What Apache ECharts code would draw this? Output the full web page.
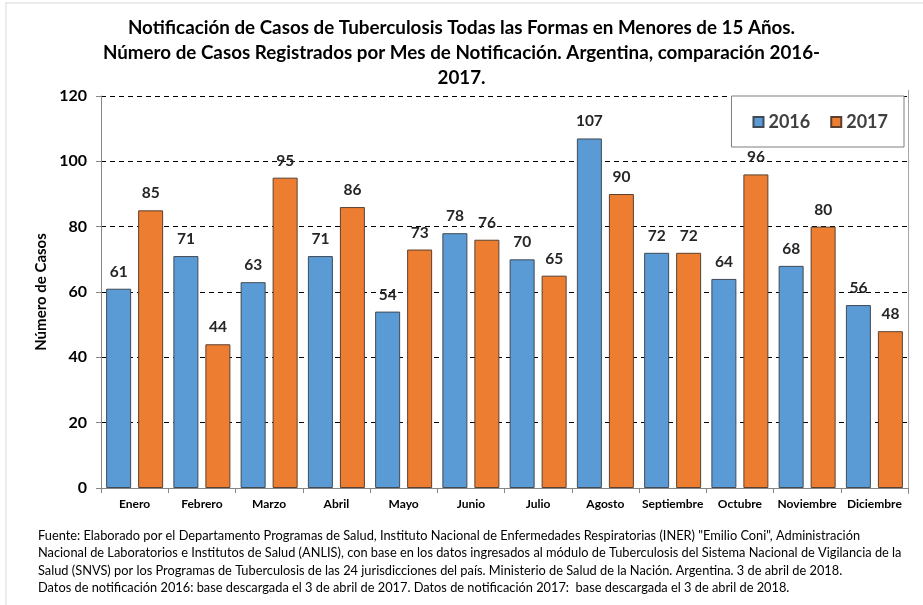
<!DOCTYPE html>
<html>
<head>
<meta charset="utf-8">
<script src="https://cdn.jsdelivr.net/npm/echarts@6/dist/echarts.min.js"></script>
<style>
  html, body { margin: 0; padding: 0; background: #fff; }
  #chart { width: 923px; height: 605px; }
</style>
</head>
<body>
<div id="chart"></div>
<script>
var months = ['Enero', 'Febrero', 'Marzo', 'Abril', 'Mayo', 'Junio', 'Julio', 'Agosto', 'Septiembre', 'Octubre', 'Noviembre', 'Diciembre'];
var casos2016 = [61, 71, 63, 71, 54, 78, 70, 107, 72, 64, 68, 56];
var casos2017 = [85, 44, 95, 86, 73, 76, 65, 90, 72, 96, 80, 48];
var yTicks = [0, 20, 40, 60, 80, 100, 120];

var titleText = 'Notificación de Casos de Tuberculosis Todas las Formas en Menores de 15 Años.\n' +
  'Número de Casos Registrados por Mes de Notificación. Argentina, comparación 2016-\n2017.';
var fuenteText = 'Fuente: Elaborado por el Departamento Programas de Salud, Instituto Nacional de Enfermedades Respiratorias (INER) "Emilio Coni", Administración\n' +
  'Nacional de Laboratorios e Institutos de Salud (ANLIS), con base en los datos ingresados al módulo de Tuberculosis del Sistema Nacional de Vigilancia de la\n' +
  'Salud (SNVS) por los Programas de Tuberculosis de las 24 jurisdicciones del país. Ministerio de Salud de la Nación. Argentina. 3 de abril de 2018.\n' +
  'Datos de notificación 2016: base descargada el 3 de abril de 2017. Datos de notificación 2017:  base descargada el 3 de abril de 2018.';

var font = 'Lato, "Open Sans", sans-serif';

var chart = echarts.init(document.getElementById('chart'));

var labelStyle = {
  show: true,
  position: 'top',
  distance: 9,
  fontFamily: font,
  fontWeight: 'bold',
  fontSize: 15.5,
  color: '#262626'
};

var option = {
  animation: false,
  backgroundColor: '#fff',
  title: {
    text: titleText,
    left: 'center',
    top: 10,
    textStyle: {
      fontFamily: font,
      fontWeight: 'bold',
      fontSize: 18.8,
      lineHeight: 25,
      color: '#000'
    }
  },
  legend: {
    right: 19,
    top: 96,
    itemWidth: 10,
    itemHeight: 10,
    itemGap: 20,
    padding: [17, 16, 16, 21],
    borderColor: '#7f7f7f',
    borderWidth: 1,
    backgroundColor: '#fff',
    icon: 'rect',
    textStyle: {
      fontFamily: font,
      fontWeight: 'bold',
      fontSize: 18,
      color: '#404040'
    },
    data: ['2016', '2017']
  },
  grid: {
    left: 101,
    right: 15,
    top: 96,
    bottom: 117
  },
  xAxis: {
    type: 'category',
    data: months,
    axisLine: { lineStyle: { color: '#868686' } },
    axisTick: { show: true, length: 5, lineStyle: { color: '#868686' } },
    axisLabel: {
      interval: 0,
      margin: 10,
      fontFamily: font,
      fontWeight: 'bold',
      fontSize: 12,
      color: '#000'
    }
  },
  yAxis: {
    type: 'value',
    min: yTicks[0],
    max: yTicks[yTicks.length - 1],
    interval: 20,
    name: 'Número de Casos',
    nameLocation: 'middle',
    nameGap: 50,
    nameTextStyle: {
      fontFamily: font,
      fontWeight: 'bold',
      fontSize: 15,
      color: '#000'
    },
    axisLine: { show: true, lineStyle: { color: '#868686' } },
    axisTick: { show: true, length: 5, lineStyle: { color: '#868686' } },
    axisLabel: {
      margin: 14,
      fontFamily: font,
      fontWeight: 'bold',
      fontSize: 16,
      color: '#000'
    },
    splitLine: {
      show: true,
      lineStyle: { color: '#000', type: [5, 4], width: 1 }
    }
  },
  series: [
    {
      name: '2016',
      type: 'bar',
      data: casos2016,
      barWidth: 25,
      barGap: '28%',
      itemStyle: { color: '#5B9BD5', borderColor: '#3f4a55', borderWidth: 1 },
      label: labelStyle
    },
    {
      name: '2017',
      type: 'bar',
      data: casos2017,
      barWidth: 25,
      barGap: '28%',
      itemStyle: { color: '#ED7D31', borderColor: '#5a4030', borderWidth: 1 },
      label: labelStyle
    }
  ],
  graphic: [
    { type: 'line', shape: { x1: 5, y1: 3, x2: 923, y2: 3 }, style: { stroke: '#d9d9d9', lineWidth: 1 } },
    { type: 'line', shape: { x1: 6, y1: 3, x2: 6, y2: 605 }, style: { stroke: '#d9d9d9', lineWidth: 1 } },
    { type: 'line', shape: { x1: 908.5, y1: 90, x2: 908.5, y2: 494 }, style: { stroke: '#a6a6a6', lineWidth: 1 } },
    {
      type: 'text',
      left: 38,
      top: 527,
      style: {
        text: fuenteText,
        fontFamily: font,
        fontSize: 12.8,
        lineHeight: 17.5,
        fill: '#000'
      }
    }
  ]
};

chart.setOption(option);
</script>
</body>
</html>
